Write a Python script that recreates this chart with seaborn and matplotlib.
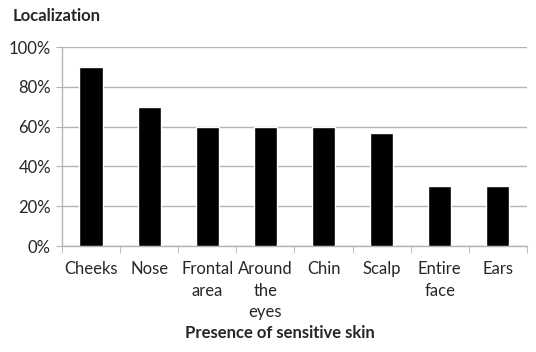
import numpy as np
import pandas as pd
import matplotlib
matplotlib.use("Agg")
import matplotlib.pyplot as plt
from matplotlib.ticker import PercentFormatter, FixedLocator
import seaborn as sns

# data
locations = ['Cheeks', 'Nose', 'Frontal\narea', 'Around\nthe\neyes', 'Chin', 'Scalp', 'Entire\nface', 'Ears']
percent = [90, 70, 60, 60, 60, 57, 30, 30]
yticks = [0, 20, 40, 60, 80, 100]

sns.set_style("white")
plt.rcParams['font.family'] = ['Lato', 'DejaVu Sans']

df = pd.DataFrame({'location': locations, 'percent': percent})

fig = plt.figure(figsize=(5.36, 3.52), dpi=100)
ax = fig.add_axes([0.1157, 0.301, 0.8673, 0.565])

sns.barplot(data=df, x='location', y='percent', color='black', width=0.4,
            saturation=1, ax=ax, zorder=3)

grid_col = '#b3b3b3'
ax.set_ylim(0, 100)
ax.set_yticks(yticks)
ax.yaxis.set_major_formatter(PercentFormatter(decimals=0))
ax.yaxis.grid(True, color=grid_col, linewidth=1, zorder=0)
ax.set_axisbelow(True)
ax.set_xlim(-0.5, len(locations) - 0.5)

for s in ['top', 'right']:
    ax.spines[s].set_visible(False)
for s in ['left', 'bottom']:
    ax.spines[s].set_color(grid_col)
    ax.spines[s].set_linewidth(1)

ax.tick_params(axis='y', which='major', length=4, color=grid_col, direction='out',
               labelsize=12, pad=4, left=True)
ax.tick_params(axis='x', which='major', length=0, labelsize=12, pad=11)
ax.xaxis.set_minor_locator(FixedLocator(np.arange(-0.5, len(locations), 1.0)))
ax.tick_params(axis='x', which='minor', length=5, color=grid_col, direction='out', bottom=True)
for lab in ax.get_xticklabels():
    lab.set_verticalalignment('top')
    lab.set_linespacing(1.4)

ax.set_xlabel('')
ax.set_ylabel('')
fig.text(0.523, 0.055, 'Presence of sensitive skin', fontsize=12, fontweight='bold',
         ha='center', va='center')
fig.text(0.024, 0.955, 'Localization', fontsize=12, fontweight='bold', va='center', ha='left')

fig.savefig('out.png', dpi=100)
